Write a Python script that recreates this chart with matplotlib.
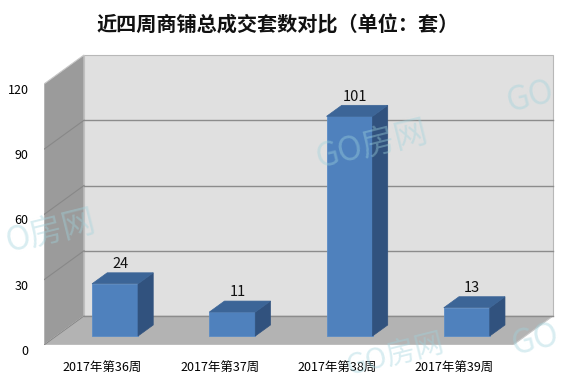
import matplotlib
matplotlib.use("Agg")
import matplotlib.pyplot as plt
from matplotlib.patches import Polygon

plt.rcParams['font.family'] = ['Noto Sans CJK SC', 'DejaVu Sans']

categories = ['2017年第36周', '2017年第37周', '2017年第38周', '2017年第39周']
values = [24, 11, 101, 13]
yticks = [0, 30, 60, 90, 120]
title = '近四周商铺总成交套数对比（单位：套）'

W, H = 567, 386
fig = plt.figure(figsize=(W / 100, H / 100), dpi=100)
# front plane: x -0.5..3.5 -> px 44..513 ; y 0..120 -> px 345..84
left_px, right_px, bot_px, top_px = 44, 556, 345, 54
ppx = (513 - 44) / 4.0
ppy = (345 - 84) / 120.0
ax = fig.add_axes([left_px / W, (H - bot_px) / H, (right_px - left_px) / W, (bot_px - top_px) / H])
ax.set_xlim(-0.5, -0.5 + (right_px - left_px) / ppx)
ax.set_ylim(0, (bot_px - top_px) / ppy)
for s in ax.spines.values():
    s.set_visible(False)

dx, dy = 40 / ppx, 29 / ppy
x0, x1, ymax = -0.5, len(categories) - 0.5, 120

# walls
ax.add_patch(Polygon([(x0 + dx, dy), (x1 + dx, dy), (x1 + dx, ymax + dy), (x0 + dx, ymax + dy)],
                     closed=True, fc='#e0e0e0', ec='#b8b8b8', lw=0.8, zorder=1))
ax.add_patch(Polygon([(x0, 0), (x0 + dx, dy), (x0 + dx, ymax + dy), (x0, ymax)],
                     closed=True, fc='#9b9b9b', ec='#c8c8c8', lw=0.8, zorder=1))
ax.add_patch(Polygon([(x0, 0), (x1, 0), (x1 + dx, dy), (x0 + dx, dy)],
                     closed=True, fc='#b3b3b3', ec='#c8c8c8', lw=0.8, zorder=1))
for v in yticks[1:-1] + [0]:
    ax.plot([x0 + dx, x1 + dx], [v + dy, v + dy], color='#8c8c8c', lw=1.0, zorder=2)
    ax.plot([x0, x0 + dx], [v, v + dy], color='#888888', lw=0.8, zorder=2)

# watermarks
wm = dict(color='#9fd3dd', alpha=0.4, fontsize=24, rotation=14, zorder=2.5,
          ha='center', va='center')
fig.text(372 / W, 1 - 145 / H, 'GO房网', **wm)
fig.text(530 / W, 1 - 97 / H, 'GO', **wm)
fig.text(50 / W, 1 - 232 / H, 'O房网', **wm)
fig.text(395 / W, 1 - 356 / H, 'GO房网', **dict(wm, fontsize=21))
fig.text(535 / W, 1 - 340 / H, 'GO', **wm)

# bars
f0, f1 = 0.31, 0.69
bw = 46 / ppx
xs = [i + f0 * dx for i in range(len(values))]
base = f0 * dy
ax.bar(xs, values, width=bw, bottom=base, color='#4f81bd', edgecolor='#5b8cc6', lw=0.6, zorder=3)
ddx, ddy = (f1 - f0) * dx, (f1 - f0) * dy
for x, v in zip(xs, values):
    xl, xr = x - bw / 2, x + bw / 2
    top = base + v
    ax.add_patch(Polygon([(xr, base), (xr + ddx, base + ddy), (xr + ddx, top + ddy), (xr, top)],
                         closed=True, fc='#31527e', ec='#31527e', lw=0.5, zorder=3))
    ax.add_patch(Polygon([(xl, top), (xr, top), (xr + ddx, top + ddy), (xl + ddx, top + ddy)],
                         closed=True, fc='#3c6597', ec='#3c6597', lw=0.5, zorder=3))
    ax.text(x + ddx / 2 - 0.02, top + ddy + 0.8, str(v), ha='center', va='bottom',
            fontsize=10.5, color='#111111', zorder=4)

ax.set_yticks(yticks)
ax.set_yticklabels([str(t) for t in yticks], fontsize=9)
ax.set_xticks(range(len(categories)))
ax.set_xticklabels(categories, fontsize=9)
ax.tick_params(axis='y', length=0, pad=11)
ax.tick_params(axis='x', length=0, pad=12)
for lab in ax.get_yticklabels():
    lab.set_va('top')

fig.text(278 / W, 1 - 25 / H, title, ha='center', va='center', fontsize=14.5,
         fontweight='bold', color='#111111')

fig.savefig('out.png', dpi=100)
